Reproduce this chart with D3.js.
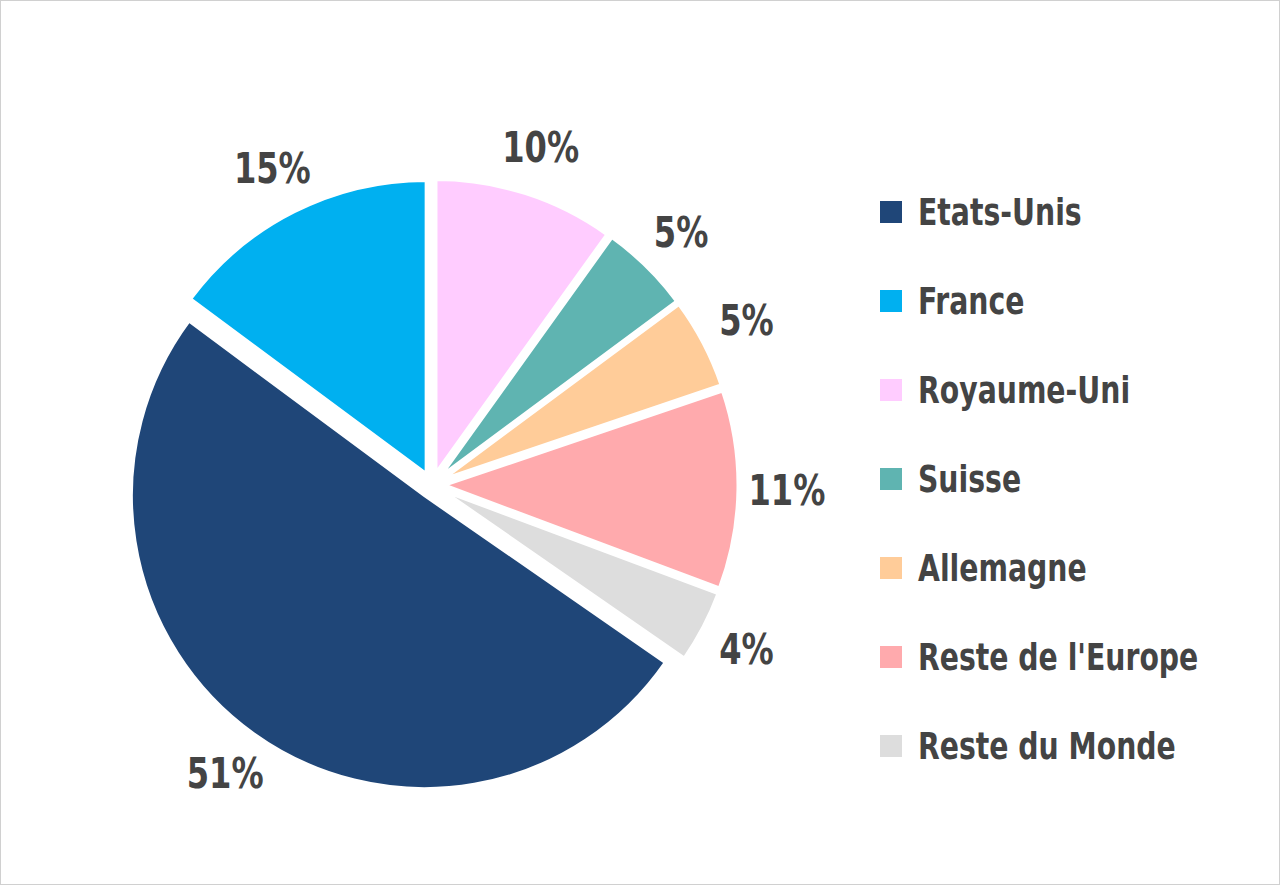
<!DOCTYPE html>
<html><head><meta charset="utf-8">
<script src="https://cdn.jsdelivr.net/npm/d3@7"></script>
<style>body{margin:0;background:#fff}svg{display:block}</style>
</head><body>
<script>
var categories = ["Royaume-Uni", "Suisse", "Allemagne", "Reste de l'Europe", "Reste du Monde", "Etats-Unis", "France"];
var values = [10, 5, 5, 11, 4, 51, 15];
var colors = ["#ffccff", "#5fb4b1", "#ffcc99", "#ffaaad", "#dddddd", "#1f4678", "#00b0f0"];
var legendOrder = ["Etats-Unis", "France", "Royaume-Uni", "Suisse", "Allemagne", "Reste de l'Europe", "Reste du Monde"];

var W = 1280, H = 885, cx = 432, cy = 485, R = 293, off = 13;
var font = "'DejaVu Sans Condensed','DejaVu Sans',sans-serif";

var svg = d3.select("body").append("svg").attr("width", W).attr("height", H);
svg.append("rect").attr("x", 0.5).attr("y", 0.5).attr("width", W - 1).attr("height", H - 1)
  .attr("fill", "#fff").attr("stroke", "#d0d0d0");

var color = d3.scaleOrdinal().domain(categories).range(colors);
var arcs = d3.pie().sort(null).value(function (d) { return d; })(values);
var arc = d3.arc().innerRadius(0).outerRadius(R);
var labelArc = d3.arc().innerRadius(R + 62).outerRadius(R + 62);

var g = svg.append("g").attr("transform", "translate(" + cx + "," + cy + ")");
g.selectAll("path").data(arcs).enter().append("path")
  .attr("d", arc)
  .attr("fill", function (d, i) { return color(categories[i]); })
  .attr("stroke", "#fff").attr("stroke-width", 3)
  .attr("transform", function (d) {
    var a = (d.startAngle + d.endAngle) / 2;
    return "translate(" + (Math.sin(a) * off) + "," + (-Math.cos(a) * off) + ")";
  });

g.selectAll("text").data(arcs).enter().append("text")
  .attr("transform", function (d) { return "translate(" + labelArc.centroid(d) + ") scale(0.85,1)"; })
  .attr("text-anchor", "middle").attr("dy", "0.35em")
  .attr("font-family", font).attr("font-weight", "bold").attr("font-size", 42)
  .attr("fill", "#444")
  .text(function (d) { return d.value + "%"; });

var ly = d3.scalePoint().domain(legendOrder).range([212, 746]);
var leg = svg.selectAll(".leg").data(legendOrder).enter().append("g")
  .attr("transform", function (d) { return "translate(880," + ly(d) + ")"; });
leg.append("rect").attr("x", 0).attr("y", -11).attr("width", 22).attr("height", 22)
  .attr("fill", function (d) { return color(d); });
leg.append("text").attr("transform", "translate(38,0) scale(0.85,1)").attr("dy", "0.36em")
  .attr("font-family", font).attr("font-weight", "bold").attr("font-size", 37)
  .attr("fill", "#444").text(function (d) { return d; });
</script>
</body></html>
